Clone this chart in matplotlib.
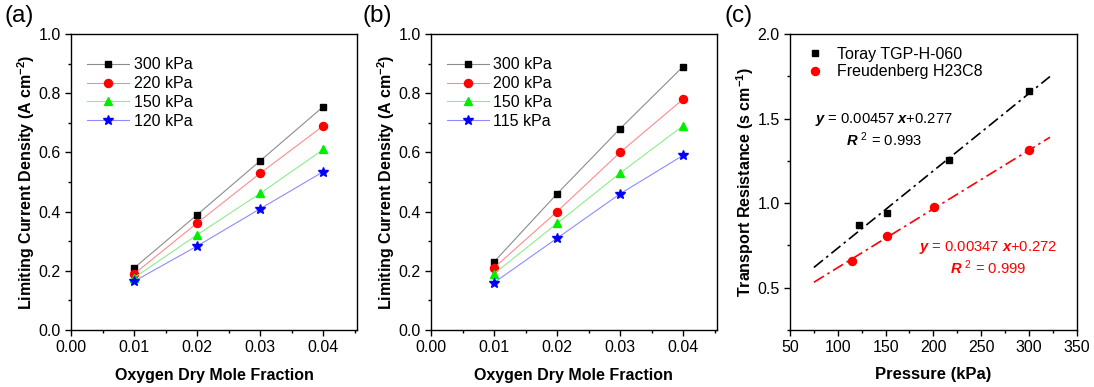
import matplotlib
matplotlib.use("Agg")
import matplotlib.pyplot as plt
from matplotlib.ticker import MultipleLocator, FormatStrFormatter

plt.rcParams['font.family'] = ['Liberation Sans', 'DejaVu Sans']
plt.rcParams['mathtext.fontset'] = 'custom'
plt.rcParams['mathtext.rm'] = 'Liberation Sans'
plt.rcParams['mathtext.it'] = 'Liberation Sans:italic'
plt.rcParams['mathtext.bf'] = 'Liberation Sans:bold'
plt.rcParams['mathtext.bfit'] = 'Liberation Sans:italic:bold'

# Oxygen dry mole fraction
fraction = [0.01, 0.02, 0.03, 0.04]

# Panel (a): limiting current density (A cm^-2)
labels_a = ['300 kPa', '220 kPa', '150 kPa', '120 kPa']
lcd_a_300 = [0.21, 0.39, 0.572, 0.755]
lcd_a_220 = [0.19, 0.362, 0.53, 0.69]
lcd_a_150 = [0.177, 0.322, 0.462, 0.61]
lcd_a_120 = [0.165, 0.284, 0.41, 0.535]

# Panel (b): limiting current density (A cm^-2)
labels_b = ['300 kPa', '200 kPa', '150 kPa', '115 kPa']
lcd_b_300 = [0.23, 0.46, 0.68, 0.89]
lcd_b_200 = [0.21, 0.40, 0.60, 0.78]
lcd_b_150 = [0.19, 0.36, 0.53, 0.69]
lcd_b_115 = [0.16, 0.31, 0.46, 0.59]

# Panel (c): transport resistance (s cm^-1) vs pressure (kPa)
toray_p = [122, 151, 216, 300]
toray_r = [0.87, 0.94, 1.255, 1.665]
freud_p = [115, 151, 201, 300]
freud_r = [0.66, 0.805, 0.975, 1.315]
toray_fit = (0.00457, 0.277, 0.993)
freud_fit = (0.00347, 0.272, 0.999)
fit_range = [75, 322]

marker_colors = ['black', 'red', '#00ee00', 'blue']
line_colors = ['#8c8c8c', '#ff8c8c', '#8cee8c', '#8c8cff']
markers = ['s', 'o', '^', '*']
msizes = [5, 5.8, 6.2, 7.5]

fig = plt.figure(figsize=(10.94, 3.87), dpi=100)

W, H = 1094.0, 387.0
bottom = 1 - 330 / H
height = (330 - 34) / H


def style_axes(ax):
    for s in ax.spines.values():
        s.set_linewidth(1.0)
    ax.tick_params(which='both', direction='out', top=False, right=False,
                   labelsize=11.5, width=1.0)
    ax.tick_params(which='major', length=4.5, pad=3)
    ax.tick_params(which='minor', length=2.5)


def lcd_panel(left, series, labels, tag, tag_x):
    ax = fig.add_axes([left / W, bottom, 285.5 / W, height])
    for vals, lab, mc, lc, mk, ms in zip(series, labels, marker_colors,
                                         line_colors, markers, msizes):
        ax.plot(fraction, vals, color=lc, lw=0.8, marker=mk, ms=ms,
                mfc=mc, mec=mc, label=lab)
    ax.set_xlim(0, 0.0453)
    ax.set_ylim(0, 1.0)
    ax.xaxis.set_major_locator(MultipleLocator(0.01))
    ax.xaxis.set_minor_locator(MultipleLocator(0.005))
    ax.yaxis.set_major_locator(MultipleLocator(0.2))
    ax.yaxis.set_minor_locator(MultipleLocator(0.1))
    ax.xaxis.set_major_formatter(FormatStrFormatter('%.2f'))
    ax.yaxis.set_major_formatter(FormatStrFormatter('%.1f'))
    style_axes(ax)
    ax.set_xlabel('Oxygen Dry Mole Fraction', fontsize=11.5,
                  fontweight='bold', labelpad=9)
    ax.set_ylabel(r'Limiting Current Density (A cm$^{\mathregular{-2}}$)',
                  fontsize=11.5, fontweight='bold', labelpad=1)
    ax.legend(loc='upper left', frameon=False, fontsize=11.5,
              bbox_to_anchor=(0.0, 0.975), handlelength=2.6,
              handletextpad=0.3, labelspacing=0.24, borderaxespad=0.6)
    fig.text(tag_x / W, 1 - 16 / H, tag, fontsize=17.5, va='center',
             ha='left')
    return ax


lcd_panel(71.3, [lcd_a_300, lcd_a_220, lcd_a_150, lcd_a_120], labels_a,
          '(a)', 5)
lcd_panel(431.0, [lcd_b_300, lcd_b_200, lcd_b_150, lcd_b_115], labels_b,
          '(b)', 363)

# Panel (c)
axc = fig.add_axes([790 / W, bottom, 286.7 / W, height])
axc.plot(toray_p, toray_r, 's', color='black', ms=5, label='Toray TGP-H-060')
axc.plot(freud_p, freud_r, 'o', color='red', ms=5.8,
         label='Freudenberg H23C8')
for (slope, icpt, _), col in [(toray_fit, 'black'), (freud_fit, 'red')]:
    axc.plot(fit_range, [slope * p + icpt for p in fit_range], color=col,
             lw=1.2, ls=(0, (7, 2.5, 1.5, 2.5)))
axc.set_xlim(50, 350)
axc.set_ylim(0.25, 2.0)
axc.xaxis.set_major_locator(MultipleLocator(50))
axc.xaxis.set_minor_locator(MultipleLocator(25))
axc.yaxis.set_major_locator(MultipleLocator(0.5))
axc.yaxis.set_minor_locator(MultipleLocator(0.25))
axc.yaxis.set_major_formatter(FormatStrFormatter('%.1f'))
style_axes(axc)
axc.set_xlabel('Pressure (kPa)', fontsize=12, fontweight='bold', labelpad=8)
axc.set_ylabel(r'Transport Resistance (s cm$^{\mathregular{-1}}$)',
               fontsize=11.5, fontweight='bold', labelpad=1)
axc.legend(loc='upper left', frameon=False, fontsize=11.5, handlelength=1.0,
           handletextpad=0.9, labelspacing=0.15, borderaxespad=0.4,
           bbox_to_anchor=(0.015, 1.0))

s, b, r2 = toray_fit
axc.text(76, 1.496, r'$\mathbfit{y}$ = %.5f $\mathbfit{x}$+%.3f' % (s, b),
         fontsize=10.6, va='center', color='black')
axc.text(109, 1.378, r'$\mathbfit{R}$ $^{2}$ = %.3f' % r2,
         fontsize=10.6, va='center', color='black')
s, b, r2 = freud_fit
axc.text(185, 0.739, r'$\mathbfit{y}$ = %.5f $\mathbfit{x}$+%.3f' % (s, b),
         fontsize=10.6, va='center', color='red')
axc.text(217.5, 0.621, r'$\mathbfit{R}$ $^{2}$ = %.3f' % r2,
         fontsize=10.6, va='center', color='red')
fig.text(725 / W, 1 - 16 / H, '(c)', fontsize=17.5, va='center', ha='left')

fig.savefig('out.png', dpi=100)
